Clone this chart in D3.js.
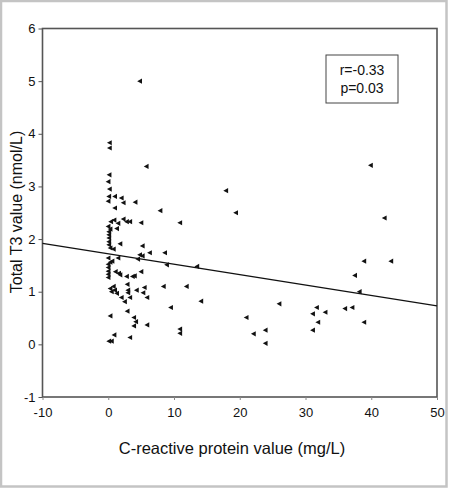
<!DOCTYPE html>
<html><head><meta charset="utf-8">
<script src="https://cdn.jsdelivr.net/npm/d3@7"></script>
<style>body{margin:0;background:#fff}svg{display:block}text{font-family:"Liberation Sans",Arial,sans-serif;fill:#111}</style>
</head><body><div id="c"></div>
<script>
const crpValues = [4.8,0.2,0.2,5.8,0.15,0.0,0.2,17.9,39.9,0.1,1.0,2.0,0.0,2.3,4.1,1.0,7.9,19.4,42.0,0.4,0.9,1.5,2.3,2.8,3.3,5.0,10.9,0.0,0.3,1.3,0.1,0.1,0.1,0.1,1.8,0.1,5.2,0.3,0.8,6.3,8.6,5.2,0.0,1.5,4.5,0.3,0.6,4.8,8.9,13.5,38.9,43.0,0.0,0.0,0.0,1.1,1.6,1.8,0.0,5.0,37.5,0.0,2.8,3.7,4.0,2.9,8.4,11.9,0.3,0.8,0.5,1.0,1.3,3.0,3.0,4.3,5.5,5.3,38.2,2.0,2.5,3.3,5.9,14.1,26.0,9.5,31.7,36.0,37.1,2.9,31.1,33.0,0.3,3.9,21.0,4.2,31.9,38.9,3.9,5.9,10.9,10.9,23.9,31.1,22.1,0.9,3.3,0.1,0.5,23.9];
const t3Values = [5.0,3.83,3.73,3.38,3.22,3.09,2.95,2.92,3.40,2.81,2.81,2.78,2.72,2.69,2.70,2.59,2.54,2.50,2.40,2.33,2.36,2.30,2.38,2.33,2.33,2.31,2.31,2.24,2.19,2.20,2.14,2.08,2.02,1.95,1.91,1.89,1.87,1.83,1.81,1.74,1.74,1.68,1.64,1.64,1.62,1.56,1.58,1.70,1.51,1.48,1.58,1.58,1.52,1.46,1.39,1.38,1.35,1.32,1.33,1.38,1.31,1.27,1.29,1.29,1.30,1.14,1.10,1.10,1.06,1.10,1.00,1.03,0.97,1.03,0.98,1.03,1.08,0.98,1.00,0.89,0.81,0.89,0.89,0.82,0.77,0.70,0.70,0.68,0.70,0.63,0.58,0.61,0.54,0.51,0.51,0.43,0.42,0.42,0.35,0.37,0.29,0.21,0.27,0.27,0.20,0.18,0.13,0.06,0.06,0.02];
const xTicks = [-10,0,10,20,30,40,50];
const yTicks = [-1,0,1,2,3,4,5,6];
const fitLine = {intercept: 1.72, slope: -0.0198};
const statsLabels = ["r=-0.33","p=0.03"];
const xLabel = "C-reactive protein value (mg/L)";
const yLabel = "Total T3 value (nmol/L)";

const W = 450, H = 489;
const fmt = d => String(d);
const svg = d3.select("#c").append("svg").attr("width", W).attr("height", H);
// outer frame
svg.append("rect").attr("x",1).attr("y",1).attr("width",445.5).attr("height",485.5)
  .attr("fill","none").attr("stroke","#c4c4c4").attr("stroke-width",2.5);

const x = d3.scaleLinear().domain([-10,50]).range([42.5,437]);
const y = d3.scaleLinear().domain([-1,6]).range([397,28.5]);

// plot frame
svg.append("rect").attr("x",x(-10)).attr("y",y(6)).attr("width",x(50)-x(-10)).attr("height",y(-1)-y(6))
  .attr("fill","none").attr("stroke","#555").attr("stroke-width",1.6);

const xa = svg.append("g").attr("transform",`translate(0,${y(-1)})`)
  .call(d3.axisBottom(x).tickValues(xTicks).tickSize(3).tickPadding(8).tickFormat(fmt));
xa.select(".domain").remove();
xa.selectAll("line").attr("stroke","#888");
xa.selectAll("text").attr("font-size",13).attr("fill","#111").attr("font-family","Liberation Sans, Arial, sans-serif");

const ya = svg.append("g").attr("transform",`translate(${x(-10)},0)`)
  .call(d3.axisLeft(y).tickValues(yTicks).tickSize(4).tickPadding(3).tickFormat(fmt));
ya.select(".domain").remove();
ya.selectAll("line").attr("stroke","#555");
ya.selectAll("text").attr("font-size",13).attr("fill","#111").attr("font-family","Liberation Sans, Arial, sans-serif");

// regression line
svg.append("line")
  .attr("x1",x(-10)).attr("y1",y(fitLine.intercept + fitLine.slope*(-10)))
  .attr("x2",x(50)).attr("y2",y(fitLine.intercept + fitLine.slope*50))
  .attr("stroke","#111").attr("stroke-width",1.3);

// points
const pts = crpValues.map((v,i)=>({x:v,y:t3Values[i]}));
svg.append("g").selectAll("path").data(pts).join("path")
  .attr("transform",d=>`translate(${x(d.x)},${y(d.y)})`)
  .attr("d","M-2.6,0L2.2,-2.6L2.2,2.6Z").attr("fill","#111");

// stats box
svg.append("rect").attr("x",326).attr("y",55).attr("width",72).attr("height",48)
  .attr("fill","#fff").attr("stroke","#444").attr("stroke-width",1);
svg.selectAll(".st").data(statsLabels).join("text").attr("class","st")
  .attr("x",362).attr("y",(d,i)=>75+i*18).attr("text-anchor","middle").attr("font-size",14).text(d=>d);

svg.append("text").attr("x",232).attr("y",454).attr("text-anchor","middle").attr("font-size",16.5).text(xLabel);
svg.append("text").attr("transform","translate(22,212) rotate(-90)").attr("text-anchor","middle").attr("font-size",16).text(yLabel);
</script></body></html>
